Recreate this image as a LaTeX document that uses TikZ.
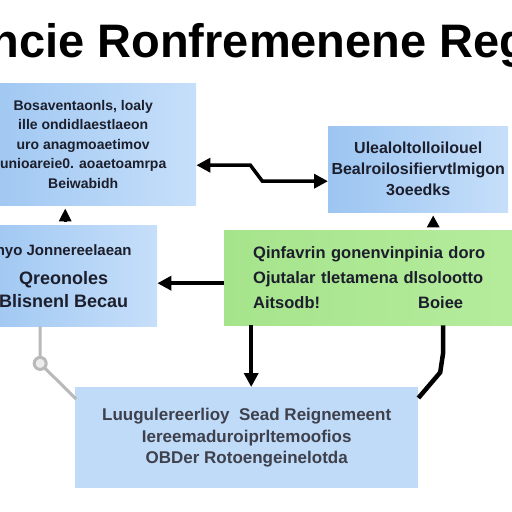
\documentclass[tikz,border=0pt]{standalone}
\usepackage{fontspec}
\setmainfont{Liberation Sans}
\usetikzlibrary{arrows,arrows.meta}

\definecolor{boxblue}{RGB}{156,197,241}
\definecolor{boxbluelt}{RGB}{198,223,250}
\definecolor{paleblue}{RGB}{192,219,248}
\definecolor{boxgreen}{RGB}{166,228,140}
\definecolor{boxgreenlt}{RGB}{184,238,160}
\definecolor{inkdark}{RGB}{28,30,44}

\begin{document}
\begin{tikzpicture}[x=1pt,y=-1pt,
  box/.style={inner sep=0pt, anchor=north west, align=center, text=inkdark},
  bluebox/.style={box, left color=boxblue, right color=boxbluelt},
  greenbox/.style={box, left color=boxgreen, right color=boxgreenlt},
  link/.style={line width=3.5pt, black},
  headed/.style={-{Triangle[length=14pt,width=14pt]}},
  twoheaded/.style={{Triangle[length=14pt,width=14pt]}-{Triangle[length=14pt,width=14pt]}},
  graylink/.style={line width=3pt, gray!55}
]

\useasboundingbox (0,0) rectangle (512,512);
\clip (0,0) rectangle (512,512);
\fill[white] (0,0) rectangle (512,512);

\node[anchor=base west, font=\fontsize{47}{50}\bfseries\selectfont] (title) at (-13,57) {ncie Ronfremenene Rega};

% boxes
\node[bluebox, minimum width=226pt, minimum height=122pt, font=\fontsize{14}{19.5}\bfseries\selectfont] (A) at (-30,83)
  {Bosaventaonls, loaly\\ ille ondidlaestlaeon\\ uro anagmoaetimov\\ unioareie0. aoaetoamrpa\\ Beiwabidh};
\node[bluebox, minimum width=180pt, minimum height=86pt, font=\fontsize{16}{21}\bfseries\selectfont] (B) at (328,126)
  {Ulealoltolloilouel\\ Bealroilosifiervtlmigon\\ 3oeedks};
\node[bluebox, minimum width=187pt, minimum height=101pt, font=\fontsize{18}{23}\bfseries\selectfont] (C) at (-30,225)
  {{\fontsize{15}{16}\selectfont nyo Jonnereelaean}\\[6pt] Qreonoles\\ Blisnenl Becau};
\node[greenbox, align=left, inner xsep=29pt, text width=300pt, minimum height=95pt, font=\fontsize{16.5}{25}\bfseries\selectfont] (D) at (224,230)
  {Qinfavrin gonenvinpinia doro\\ Ojutalar tletamena dlsolootto\\ \makebox[165pt][l]{Aitsodb!}Boiee};
\node[box, fill=paleblue, minimum width=343pt, minimum height=101pt, font=\fontsize{17}{21.5}\bfseries\selectfont, text=inkdark!85] (E) at (75,387)
  {Luugulereerlioy\ \ Sead Reignemeent\\ Iereemaduroiprltemoofios\\ OBDer Rotoengeinelotda};

% connectors
\draw[link, twoheaded] ([yshift=-21pt]A.east) -- ++(54,0) -- ++(12,16) -- ([yshift=-12pt]B.west);
\draw[link, headed] ([yshift=-5.5pt]D.west) -- ([yshift=-5.5pt]D.west -| C.east);
\draw[link, headed] ([xshift=-152pt]D.south) -- ([xshift=-152pt]D.south |- E.north);
\draw[link, line width=4.5pt] ([xshift=40pt]D.south) -- ++(0,27) -- ++(-3,20) -- ([yshift=-11pt]E.north east);
\draw[link, line width=3pt, -{Triangle[length=13pt,width=12pt]}] ([xshift=1.5pt,yshift=3pt]C.north) -- ([xshift=-18pt,yshift=-3pt]A.south);
\draw[link, line width=3pt, -{Triangle[length=12pt,width=12pt]}] ([xshift=30pt,yshift=4pt]D.north) -- ([xshift=15pt,yshift=-3pt]B.south);
\draw[graylink] ([xshift=-23.5pt]C.south) -- ++(0,37) coordinate (hinge) -- ([xshift=1pt,yshift=-12pt]E.north west);
\draw[graylink, fill=gray!15] (hinge) circle (6);
\end{tikzpicture}
\end{document}
